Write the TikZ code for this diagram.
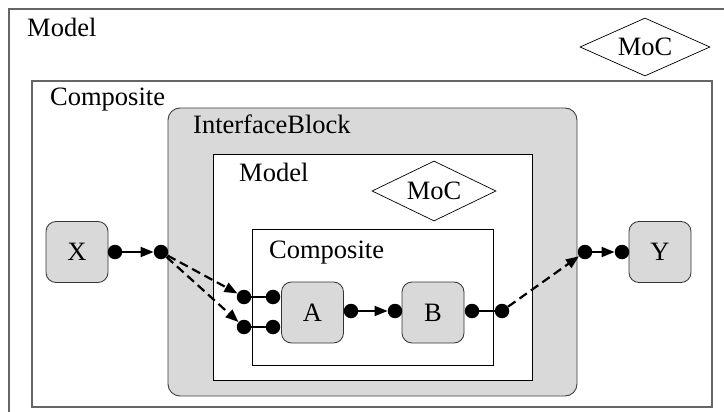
\documentclass[tikz,border=0pt]{standalone}
\usepackage{fontspec}
\setmainfont{Liberation Serif}
\usetikzlibrary{arrows.meta,shapes.geometric}
\begin{document}
\begin{tikzpicture}[x=1pt,y=-1pt,
  lbl/.style={anchor=base west,inner sep=0pt,font=\fontsize{26.5}{30}\selectfont},
  blk/.style={draw=black!80,fill=gray!30,rounded corners=10pt,minimum width=62pt,minimum height=61pt,inner sep=0pt,font=\fontsize{26.5}{30}\selectfont,line width=0.8pt},
  moc/.style={diamond,draw,fill=white,aspect=2.2,inner sep=0pt,line width=0.7pt,font=\fontsize{26.5}{30}\selectfont},
  port/.style={circle,fill=black,inner sep=0pt,minimum size=14.5pt},
  flow/.style={line width=2pt,-{Triangle[length=13pt,width=10pt]}},
  dflow/.style={flow,line width=2.2pt,dash pattern=on 9pt off 5pt},
  wire/.style={line width=1.5pt},
  graybox/.style={draw=black!60,line width=1.3pt}]
\useasboundingbox (0,0) rectangle (724,412);
\clip (0,0) rectangle (724,412);
\fill[white] (0,0) rectangle (724,412);
% containers
\draw[graybox] (9,9) rectangle (760,440);
\draw[graybox] (32,81) rectangle (712,407);
\draw[draw=black!75,fill=gray!30,rounded corners=12pt,line width=0.9pt] (168,108) rectangle (577,396);
\draw[fill=white,line width=0.8pt] (213,154) rectangle (532,380);
\draw[fill=white,line width=0.8pt] (252,229) rectangle (493,365);
% labels
\node[lbl] (lmodel) at (27,37) {Model};
\node[lbl] (lcomp) at (50,106) {Composite};
\node[lbl] (lib) at (193,134) {InterfaceBlock};
\node[lbl] (lmodel2) at (239,181) {Model};
\node[lbl] (lcomp2) at (269,258) {Composite};
% MoC diamonds
\node[moc,minimum width=130pt,minimum height=58pt] (moc1) at (645,47) {MoC};
\node[moc,minimum width=124pt,minimum height=60pt] (moc2) at (434,191) {MoC};
% blocks
\node[blk] (X) at (77,252) {X};
\node[blk] (Y) at (660,252) {Y};
\node[blk] (A) at (312.5,312.5) {A};
\node[blk] (B) at (433,312.5) {B};
% ports
\node[port] (xo) at (115,252) {};
\node[port] (ibin) at (161,252) {};
\node[port] (p1) at (244,297) {};
\node[port] (p2) at (244,327) {};
\node[port] (a1) at (273,297) {};
\node[port] (a2) at (273,327) {};
\node[port] (ao) at (351,311) {};
\node[port] (bi) at (395,311) {};
\node[port] (bo) at (472,311) {};
\node[port] (cp) at (502,311) {};
\node[port] (ibout) at (585,252) {};
\node[port] (yi) at (622,252) {};
% connectors
\draw[flow] (xo) -- (ibin);
\draw[dflow] (ibin) -- (p1);
\draw[dflow] (ibin) -- (p2);
\draw[wire] (p1) -- (a1);
\draw[wire] (p2) -- (a2);
\draw[flow] (ao) -- (bi);
\draw[wire] (bo) -- (cp);
\draw[dflow] (cp) -- (ibout);
\draw[flow] (ibout) -- (yi);
\end{tikzpicture}
\end{document}
